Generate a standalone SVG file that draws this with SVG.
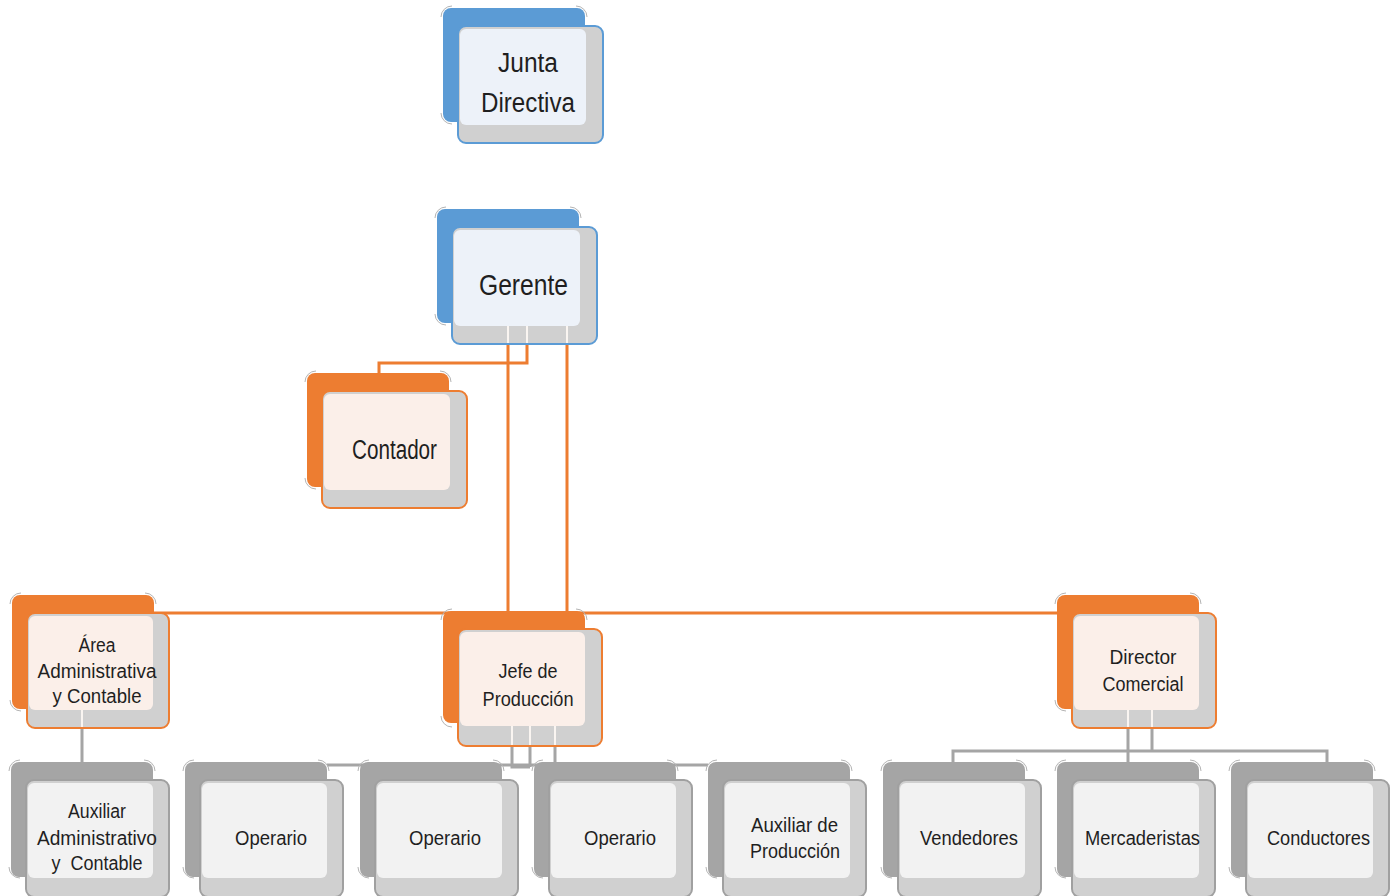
<svg xmlns="http://www.w3.org/2000/svg" width="1400" height="896" viewBox="0 0 1400 896">
<style>
  .bg{fill:#ffffff}
  .back{stroke:none}
  .front{fill:#d0d0d0;stroke-width:2}
  .corners{fill:none;stroke:#b4b4b4;stroke-width:1}
  .blue .back{fill:#5b9bd5}
  .blue .front{stroke:#5b9bd5}
  .blue .inner{fill:#edf2f9}
  .orange .back{fill:#ed7d31}
  .orange .front{stroke:#ed7d31}
  .orange .inner{fill:#fbefe9}
  .gray .back{fill:#a5a5a5}
  .gray .front{stroke:#a0a0a0}
  .gray .inner{fill:#f2f2f2}
  .gap{stroke:#faf5f1;stroke-width:2}
  text{font-family:"Liberation Sans",Arial,sans-serif;fill:#1f1f1f;text-anchor:middle;white-space:pre}
  .big{font-size:27px}
  .sm{font-size:20px}
  .c-or{fill:none;stroke:#ed7d31;stroke-width:3}
  .c-gr{fill:none;stroke:#a5a5a5;stroke-width:3}
</style>
<defs>
  <path id="corners" d="M-2,9 A11,11 0 0 1 9,-2 M133,-2 A11,11 0 0 1 144,9 M-2,105 A11,11 0 0 0 9,116"/>
</defs>
<rect class="bg" width="1400" height="896"/>

<g id="connectors">
  <path class="c-or" d="M527,344 V363 H379 V373"/>
  <path class="c-or" d="M508,344 V612"/>
  <path class="c-or" d="M567,344 V613"/>
  <path class="c-or" d="M153,613 H1058"/>
  <path class="c-gr" d="M82,728 V762"/>
  <path class="c-gr" d="M512,746 V767 H530"/>
  <path class="c-gr" d="M530,746 V767"/>
  <path class="c-gr" d="M555,746 V762"/>
  <path class="c-gr" d="M327,765 H708"/>
  <path class="c-gr" d="M1128,728 V762"/>
  <path class="c-gr" d="M1152,728 V751"/>
  <path class="c-gr" d="M953,762 V751 H1327 V762"/>
</g>

<g id="n-junta" class="blue" transform="translate(443,8)">
  <rect class="back" width="142" height="114" rx="8"/>
  <use href="#corners" class="corners"/>
  <rect class="front" x="15" y="18" width="145" height="117" rx="8"/>
  <rect class="inner" x="17" y="21" width="126" height="96" rx="6"/>
  <text class="big" x="85" y="64" textLength="60" lengthAdjust="spacingAndGlyphs">Junta</text>
  <text class="big" x="85" y="104" textLength="94" lengthAdjust="spacingAndGlyphs">Directiva</text>
</g>

<g id="n-gerente" class="blue" transform="translate(437,209)">
  <rect class="back" width="142" height="114" rx="8"/>
  <use href="#corners" class="corners"/>
  <rect class="front" x="15" y="18" width="145" height="117" rx="8"/>
  <rect class="inner" x="17" y="21" width="126" height="96" rx="6"/>
  <line class="gap" x1="71" y1="117" x2="71" y2="134"/>
  <line class="gap" x1="90" y1="117" x2="90" y2="134"/>
  <line class="gap" x1="130" y1="117" x2="130" y2="134"/>
  <text class="big" x="86.5" y="86" style="font-size:29px" textLength="89" lengthAdjust="spacingAndGlyphs">Gerente</text>
</g>

<g id="n-contador" class="orange" transform="translate(307,373)">
  <rect class="back" width="142" height="114" rx="8"/>
  <use href="#corners" class="corners"/>
  <rect class="front" x="15" y="18" width="145" height="117" rx="8"/>
  <rect class="inner" x="17" y="21" width="126" height="96" rx="6"/>
  <text class="big" x="87.5" y="86" textLength="85" lengthAdjust="spacingAndGlyphs">Contador</text>
</g>

<g id="n-area" class="orange" transform="translate(12,595)">
  <rect class="back" width="142" height="114" rx="8"/>
  <use href="#corners" class="corners"/>
  <rect class="front" x="15" y="18" width="142" height="115" rx="8"/>
  <rect class="inner" x="17" y="21" width="124" height="94" rx="6"/>
  <line class="gap" x1="70" y1="115" x2="70" y2="132"/>
  <text class="sm" x="85" y="57" textLength="37" lengthAdjust="spacingAndGlyphs">Área</text>
  <text class="sm" x="85" y="83" textLength="119" lengthAdjust="spacingAndGlyphs">Administrativa</text>
  <text class="sm" x="85" y="108" textLength="89" lengthAdjust="spacingAndGlyphs">y Contable</text>
</g>

<g id="n-jefe" class="orange" transform="translate(443,611)">
  <rect class="back" width="142" height="112" rx="8"/>
  <use href="#corners" class="corners"/>
  <rect class="front" x="15" y="18" width="144" height="117" rx="8"/>
  <rect class="inner" x="17" y="21" width="125" height="94" rx="6"/>
  <line class="gap" x1="69" y1="115" x2="69" y2="134"/>
  <line class="gap" x1="87" y1="115" x2="87" y2="134"/>
  <line class="gap" x1="112" y1="115" x2="112" y2="134"/>
  <text class="sm" x="85" y="67" textLength="59" lengthAdjust="spacingAndGlyphs">Jefe de</text>
  <text class="sm" x="85" y="95" textLength="91" lengthAdjust="spacingAndGlyphs">Producción</text>
</g>

<g id="n-director" class="orange" transform="translate(1057,595)">
  <rect class="back" width="142" height="114" rx="8"/>
  <use href="#corners" class="corners"/>
  <rect class="front" x="15" y="18" width="144" height="115" rx="8"/>
  <rect class="inner" x="17" y="21" width="125" height="94" rx="6"/>
  <line class="gap" x1="71" y1="115" x2="71" y2="132"/>
  <line class="gap" x1="95" y1="115" x2="95" y2="132"/>
  <text class="sm" x="86" y="69" textLength="67" lengthAdjust="spacingAndGlyphs">Director</text>
  <text class="sm" x="86" y="96" textLength="81" lengthAdjust="spacingAndGlyphs">Comercial</text>
</g>

<g id="n-aux-adm" class="gray" transform="translate(11,762)">
  <rect class="back" width="142" height="115" rx="8"/>
  <use href="#corners" class="corners"/>
  <rect class="front" x="15" y="18" width="143" height="117" rx="8"/>
  <rect class="inner" x="17" y="21" width="125" height="95" rx="6"/>
  <text class="sm" x="86" y="56" textLength="58" lengthAdjust="spacingAndGlyphs">Auxiliar</text>
  <text class="sm" x="86" y="83" textLength="120" lengthAdjust="spacingAndGlyphs">Administrativo</text>
  <text class="sm" x="86" y="108" textLength="91" lengthAdjust="spacingAndGlyphs">y  Contable</text>
</g>

<g id="n-operario-1" class="gray" transform="translate(185,762)">
  <rect class="back" width="142" height="115" rx="8"/>
  <use href="#corners" class="corners"/>
  <rect class="front" x="15" y="18" width="143" height="117" rx="8"/>
  <rect class="inner" x="17" y="21" width="125" height="95" rx="6"/>
  <text class="sm" x="86" y="83" textLength="72" lengthAdjust="spacingAndGlyphs">Operario</text>
</g>

<g id="n-operario-2" class="gray" transform="translate(360,762)">
  <rect class="back" width="142" height="115" rx="8"/>
  <use href="#corners" class="corners"/>
  <rect class="front" x="15" y="18" width="143" height="117" rx="8"/>
  <rect class="inner" x="17" y="21" width="125" height="95" rx="6"/>
  <text class="sm" x="85" y="83" textLength="72" lengthAdjust="spacingAndGlyphs">Operario</text>
</g>

<g id="n-operario-3" class="gray" transform="translate(534,762)">
  <rect class="back" width="142" height="115" rx="8"/>
  <use href="#corners" class="corners"/>
  <rect class="front" x="15" y="18" width="143" height="117" rx="8"/>
  <rect class="inner" x="17" y="21" width="125" height="95" rx="6"/>
  <text class="sm" x="86" y="83" textLength="72" lengthAdjust="spacingAndGlyphs">Operario</text>
</g>

<g id="n-aux-prod" class="gray" transform="translate(708,762)">
  <rect class="back" width="142" height="115" rx="8"/>
  <use href="#corners" class="corners"/>
  <rect class="front" x="15" y="18" width="143" height="117" rx="8"/>
  <rect class="inner" x="17" y="21" width="125" height="95" rx="6"/>
  <text class="sm" x="86.5" y="70" textLength="87" lengthAdjust="spacingAndGlyphs">Auxiliar de</text>
  <text class="sm" x="87" y="96" textLength="90" lengthAdjust="spacingAndGlyphs">Producción</text>
</g>

<g id="n-vendedores" class="gray" transform="translate(883,762)">
  <rect class="back" width="142" height="115" rx="8"/>
  <use href="#corners" class="corners"/>
  <rect class="front" x="15" y="18" width="143" height="117" rx="8"/>
  <rect class="inner" x="17" y="21" width="125" height="95" rx="6"/>
  <text class="sm" x="86" y="83" textLength="98" lengthAdjust="spacingAndGlyphs">Vendedores</text>
</g>

<g id="n-mercaderistas" class="gray" transform="translate(1057,762)">
  <rect class="back" width="142" height="115" rx="8"/>
  <use href="#corners" class="corners"/>
  <rect class="front" x="15" y="18" width="143" height="117" rx="8"/>
  <rect class="inner" x="17" y="21" width="125" height="95" rx="6"/>
  <text class="sm" x="85.5" y="83" textLength="115" lengthAdjust="spacingAndGlyphs">Mercaderistas</text>
</g>

<g id="n-conductores" class="gray" transform="translate(1231,762)">
  <rect class="back" width="142" height="115" rx="8"/>
  <use href="#corners" class="corners"/>
  <rect class="front" x="15" y="18" width="143" height="117" rx="8"/>
  <rect class="inner" x="17" y="21" width="125" height="95" rx="6"/>
  <text class="sm" x="87.5" y="83" textLength="103" lengthAdjust="spacingAndGlyphs">Conductores</text>
</g>
</svg>
